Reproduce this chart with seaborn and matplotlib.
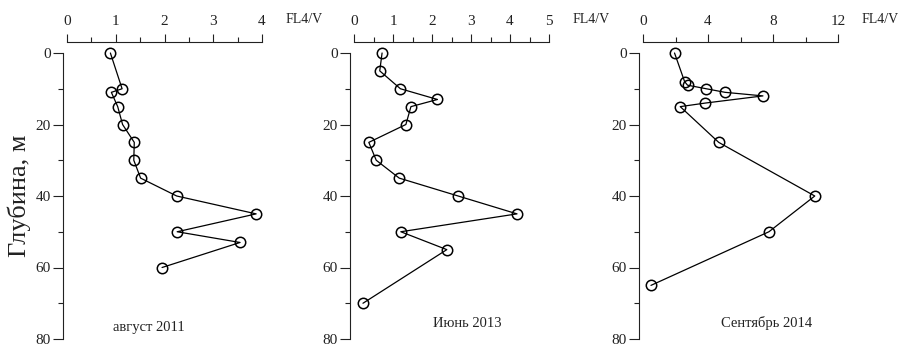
#!/usr/bin/env python3
"""
Vertical FL4/V profiles for three survey dates
"""

import matplotlib
matplotlib.use("Agg")
import matplotlib.pyplot as plt
from matplotlib.ticker import MultipleLocator
import pandas as pd
import seaborn as sns

# August 2011
depth_2011 = [0, 10, 11, 15, 20, 25, 30, 35, 40, 45, 50, 53, 60]
fl_2011 = [0.89, 1.13, 0.91, 1.04, 1.14, 1.38, 1.37, 1.51, 2.25, 3.88, 2.26, 3.55, 1.95]

# June 2013
depth_2013 = [0, 5, 10, 13, 15, 20, 25, 30, 35, 40, 45, 50, 55, 70]
fl_2013 = [0.72, 0.66, 1.19, 2.14, 1.46, 1.33, 0.38, 0.57, 1.16, 2.67, 4.18, 1.20, 2.38, 0.23]

# September 2014
depth_2014 = [0, 8, 9, 10, 11, 12, 14, 15, 25, 40, 50, 65]
fl_2014 = [1.94, 2.56, 2.74, 3.89, 5.05, 7.38, 3.84, 2.29, 4.66, 10.57, 7.75, 0.49]

panel_titles = ["август 2011", "Июнь 2013", "Сентябрь 2014"]
x_max = [4, 5, 12]
x_major = [1, 1, 4]
x_minor = [0.5, 0.5, 2]


def draw_panel(ax, depth, fl, title, xmax, xmaj, xmin, title_pos):
    df = pd.DataFrame({"FL": fl, "Depth": depth})
    sns.lineplot(data=df, x="FL", y="Depth", sort=False, estimator=None, ax=ax,
                 color="black", linewidth=0.9, marker="o", markersize=7.5,
                 markerfacecolor="none", markeredgecolor="black", markeredgewidth=1.1,
                 clip_on=False)

    ax.set_xlim(0, xmax)
    ax.set_ylim(80, 0)

    # top axis, detached from the data area
    ax.xaxis.set_ticks_position("top")
    ax.xaxis.set_label_position("top")
    ax.xaxis.set_major_locator(MultipleLocator(xmaj))
    ax.xaxis.set_minor_locator(MultipleLocator(xmin))
    ax.yaxis.set_major_locator(MultipleLocator(20))
    ax.yaxis.set_minor_locator(MultipleLocator(10))

    for side in ["right", "bottom"]:
        ax.spines[side].set_visible(False)
    ax.spines["top"].set_position(("outward", 8))
    ax.spines["left"].set_position(("outward", 2.6))
    for side in ["top", "left"]:
        ax.spines[side].set_linewidth(0.8)
        ax.spines[side].set_color("#222222")

    ax.tick_params(axis="x", which="major", direction="out", length=6, width=0.8,
                   pad=4, labelsize=11, colors="#222222")
    ax.tick_params(axis="x", which="minor", direction="out", length=3.5, width=0.8,
                   colors="#222222")
    ax.tick_params(axis="y", which="major", direction="out", length=7, width=0.8,
                   pad=2, labelsize=11, colors="#222222")
    ax.tick_params(axis="y", which="minor", direction="out", length=3.5, width=0.8,
                   colors="#222222")

    ax.set_xlabel("")
    ax.set_ylabel("")

    ax.annotate("FL4/V", xy=(1, 1), xycoords="axes fraction", xytext=(17, 24),
                textcoords="offset points", ha="left", va="center", fontsize=10,
                color="#222222")
    ax.text(title_pos[0], title_pos[1], title, transform=ax.transAxes,
            ha="center", va="center", fontsize=10.5, color="#222222")


def main():
    sns.set_style("ticks")
    plt.rcParams["font.family"] = ["Liberation Serif", "DejaVu Serif"]

    fig = plt.figure(figsize=(9, 3.48), dpi=100)

    lefts = [67 / 900, 354 / 900, 643 / 900]
    width = 195 / 900
    bottom = 1 - 339 / 348
    height = (339 - 53) / 348

    depths = [depth_2011, depth_2013, depth_2014]
    fls = [fl_2011, fl_2013, fl_2014]
    title_pos = [(0.42, 0.04), (0.58, 0.055), (0.636, 0.055)]

    axes = []
    for i in range(3):
        ax = fig.add_axes([lefts[i], bottom, width, height])
        draw_panel(ax, depths[i], fls[i], panel_titles[i], x_max[i], x_major[i],
                   x_minor[i], title_pos[i])
        axes.append(ax)

    axes[0].set_ylabel("Глубина, м", fontsize=19, labelpad=3, color="#222222")

    fig.savefig("out.png", dpi=100)


if __name__ == "__main__":
    main()
